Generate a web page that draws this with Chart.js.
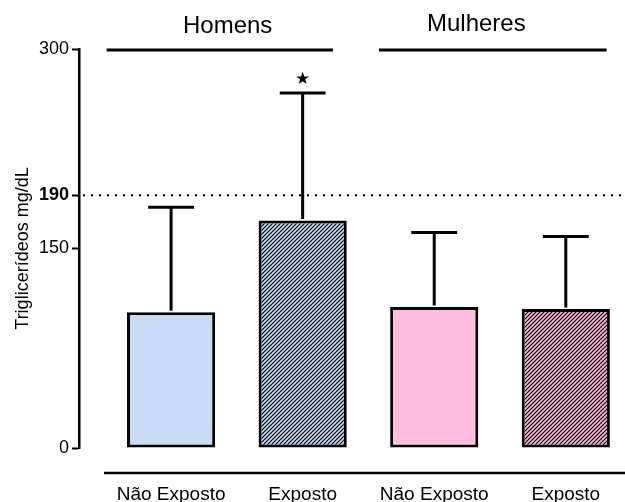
<!DOCTYPE html>
<html>
<head>
<meta charset="utf-8">
<script src="https://cdn.jsdelivr.net/npm/chart.js@4"></script>
<style>
  body { margin: 0; background: #fff; }
</style>
</head>
<body>
<canvas id="grafico" width="625" height="502"></canvas>
<script>
// dados
var categorias = ["Não Exposto", "Exposto", "Não Exposto", "Exposto"];
var medias = [102, 171, 106, 104.5];
var desvios = [79, 96, 56, 54.5];
var marcas = ["", "★", "", ""];
var grupos = ["Homens", "Mulheres"];
var yTicks = [0, 150, 190, 300];
var limite = 190;

var fonte = 'Arial, "Liberation Sans", sans-serif';

function hachura(fundo) {
  var c = document.createElement('canvas');
  c.width = 4; c.height = 4;
  var g = c.getContext('2d');
  g.fillStyle = fundo;
  g.fillRect(0, 0, 4, 4);
  g.strokeStyle = '#000';
  g.lineWidth = 1.1;
  g.beginPath();
  g.moveTo(0, 4); g.lineTo(4, 0);
  g.moveTo(-1, 1); g.lineTo(1, -1);
  g.moveTo(3, 5); g.lineTo(5, 3);
  g.stroke();
  return g.createPattern(c, 'repeat');
}

var cores = ['#c9dcf5', hachura('#c4d9f2'), '#ffbddf', hachura('#fbb9d8')];

// linhas extras: limite, barras de erro, grupos, eixo x
var extras = {
  id: 'extras',
  beforeDatasetsDraw(chart) {
    var ctx = chart.ctx, a = chart.chartArea;
    var y = chart.scales.y.getPixelForValue(limite);
    ctx.save();
    ctx.strokeStyle = '#000';
    ctx.lineWidth = 2;
    ctx.setLineDash([2, 6]);
    ctx.beginPath();
    ctx.moveTo(a.left + 4, y);
    ctx.lineTo(a.right, y);
    ctx.stroke();
    ctx.restore();
  },
  afterDatasetsDraw(chart) {
    var ctx = chart.ctx, ys = chart.scales.y;
    var meta = chart.getDatasetMeta(0);
    ctx.save();
    ctx.strokeStyle = '#000';
    ctx.fillStyle = '#000';
    ctx.lineWidth = 3;
    meta.data.forEach(function (bar, i) {
      var topo = ys.getPixelForValue(medias[i] + desvios[i]);
      var meio = bar.width * 0.26;
      ctx.beginPath();
      ctx.moveTo(bar.x, bar.y - 1.5);
      ctx.lineTo(bar.x, topo);
      ctx.moveTo(bar.x - meio, topo);
      ctx.lineTo(bar.x + meio, topo);
      ctx.stroke();
      if (marcas[i]) {
        ctx.font = '17px "DejaVu Sans"';
        ctx.textAlign = 'center';
        ctx.textBaseline = 'middle';
        ctx.fillText(marcas[i], bar.x, topo - 13);
      }
    });
    ctx.restore();
  },
  afterDraw(chart) {
    var ctx = chart.ctx, xs = chart.scales.x, a = chart.chartArea;
    ctx.save();
    ctx.strokeStyle = '#000';
    ctx.fillStyle = '#000';
    // linhas dos grupos
    ctx.lineWidth = 3;
    var faixas = [[-0.49, 1.23, 0.43, 33], [1.58, 3.31, 2.32, 31]];
    faixas.forEach(function (f, i) {
      ctx.beginPath();
      ctx.moveTo(xs.getPixelForValue(f[0]), 50);
      ctx.lineTo(xs.getPixelForValue(f[1]), 50);
      ctx.stroke();
      ctx.font = '24px ' + fonte;
      ctx.textAlign = 'center';
      ctx.textBaseline = 'alphabetic';
      ctx.fillText(grupos[i], xs.getPixelForValue(f[2]), f[3]);
    });
    // eixo x deslocado
    ctx.lineWidth = 2.5;
    ctx.beginPath();
    ctx.moveTo(104, a.bottom + 25);
    ctx.lineTo(chart.width, a.bottom + 25);
    ctx.stroke();
    ctx.restore();
  }
};

new Chart(document.getElementById('grafico'), {
  type: 'bar',
  data: {
    datasets: [{
      data: medias.map(function (m, i) { return { x: i, y: m }; }),
      backgroundColor: cores,
      borderColor: '#000',
      borderWidth: 3,
      borderSkipped: false,
      categoryPercentage: 1,
      barPercentage: 0.67
    }]
  },
  options: {
    responsive: false,
    animation: false,
    layout: { padding: { top: 49, right: 0, left: 0, bottom: 0 } },
    plugins: {
      legend: { display: false },
      tooltip: { enabled: false }
    },
    scales: {
      x: {
        type: 'linear',
        min: -0.7,
        max: 3.45,
        offset: false,
        grid: { display: false },
        border: { display: false },
        afterBuildTicks: function (s) { s.ticks = categorias.map(function (c, i) { return { value: i }; }); },
        afterFit: function (s) { s.height = 54; s.paddingLeft = 0; s.paddingRight = 0; },
        ticks: {
          padding: 27,
          color: '#000',
          maxRotation: 0,
          font: { size: 19, family: fonte },
          callback: function (v) { return categorias[v]; }
        }
      },
      y: {
        min: 0,
        max: 300,
        afterBuildTicks: function (s) { s.ticks = yTicks.map(function (v) { return { value: v }; }); },
        afterFit: function (s) { s.width = 79; },
        border: { display: true, color: '#000', width: 2.5 },
        grid: { drawOnChartArea: false, drawTicks: true, tickLength: 7, tickColor: '#000', tickWidth: 2, color: '#000' },
        ticks: {
          padding: 3,
          color: '#000',
          font: function (c) {
            return { size: 18, family: fonte, weight: (c.tick && c.tick.value === limite) ? 'bold' : 'normal' };
          }
        },
        title: {
          display: true,
          text: 'Triglicerídeos mg/dL',
          color: '#000',
          padding: { top: 12, bottom: 0 },
          font: { size: 18, family: fonte }
        }
      }
    }
  },
  plugins: [extras]
});
</script>
</body>
</html>
